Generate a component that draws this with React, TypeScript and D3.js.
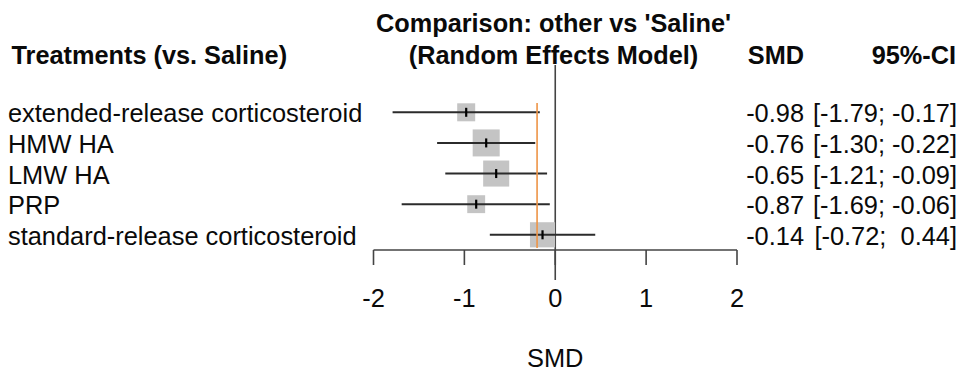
import React from "react";
import * as d3 from "d3";

const treatments = [
  "extended-release corticosteroid",
  "HMW HA",
  "LMW HA",
  "PRP",
  "standard-release corticosteroid",
];
const smd = [-0.98, -0.76, -0.65, -0.87, -0.14];
const ciLower = [-1.79, -1.3, -1.21, -1.69, -0.72];
const ciUpper = [-0.17, -0.22, -0.09, -0.06, 0.44];
const xTicks = [-2, -1, 0, 1, 2];
const referenceValue = -0.2;

const W = 960;
const H = 371;
const FONT = "'Liberation Sans', Arial, Helvetica, sans-serif";

export default function App() {
  const x = d3.scaleLinear().domain([-2, 2]).range([373.5, 737]);
  const y = d3
    .scalePoint<number>()
    .domain(treatments.map((_, i) => i))
    .range([112.3, 234.8]);

  const weights = ciLower.map((lo, i) => {
    const se = (ciUpper[i] - lo) / 3.92;
    return 1 / (se * se);
  });
  const side = d3
    .scaleSqrt()
    .domain([0, d3.max(weights) as number])
    .range([0, 27]);

  const f2 = d3.format(".2f");
  const fmt = (v: number) => (v < 0 ? f2(v).replace("−", "-") : " " + f2(v));

  const axisY = 250;
  const txt = { fontFamily: FONT, fontSize: 25.4, fill: "#0a0a0a" } as const;
  const bold = { ...txt, fontSize: 25.3, fontWeight: 700 } as const;

  return (
    <svg
      width={W}
      height={H}
      style={{ position: "absolute", left: 0, top: 0, background: "#fff" }}
    >
      <rect width={W} height={H} fill="#fff" />
      {/* Headers */}
      <text x={553.5} y={32} textAnchor="middle" style={bold}>
        Comparison: other vs 'Saline'
      </text>
      <text x={553.5} y={63.5} textAnchor="middle" style={bold}>
        (Random Effects Model)
      </text>
      <text x={11.5} y={63.5} style={bold}>
        Treatments (vs. Saline)
      </text>
      <text x={804} y={63.5} textAnchor="end" style={bold}>
        SMD
      </text>
      <text x={956} y={63.5} textAnchor="end" style={bold}>
        95%-CI
      </text>

      {/* zero line */}
      <line x1={x(0)} x2={x(0)} y1={65} y2={280} stroke="#444" strokeWidth={1.6} />

      {/* rows */}
      {treatments.map((t, i) => {
        const cy = y(i) as number;
        const s = side(weights[i]);
        return (
          <g key={t}>
            <text x={8} y={cy + 10} style={txt}>
              {t}
            </text>
            <rect
              x={x(smd[i]) - s / 2}
              y={cy - s / 2}
              width={s}
              height={s}
              fill="#c4c4c4"
            />
            <line
              x1={x(ciLower[i])}
              x2={x(ciUpper[i])}
              y1={cy}
              y2={cy}
              stroke="#2b2b2b"
              strokeWidth={2}
            />
            <line
              x1={x(smd[i])}
              x2={x(smd[i])}
              y1={cy - 4.5}
              y2={cy + 4.5}
              stroke="#000"
              strokeWidth={2.2}
            />
            <text x={804} y={cy + 10} textAnchor="end" style={txt}>
              {fmt(smd[i])}
            </text>
            <text
              x={957}
              y={cy + 10}
              textAnchor="end"
              xmlSpace="preserve"
              style={{ ...txt, whiteSpace: "pre" }}
            >
              {`[${fmt(ciLower[i])}; ${fmt(ciUpper[i])}]`}
            </text>
          </g>
        );
      })}

      {/* reference line */}
      <line
        x1={x(referenceValue)}
        x2={x(referenceValue)}
        y1={103}
        y2={248}
        stroke="#ee9446"
        strokeWidth={1.6}
      />

      {/* x axis */}
      <line x1={x(-2)} x2={x(2)} y1={axisY} y2={axisY} stroke="#444" strokeWidth={1.6} />
      {xTicks.map((t) => (
        <g key={t}>
          <line
            x1={x(t)}
            x2={x(t)}
            y1={axisY}
            y2={axisY + 15}
            stroke="#444"
            strokeWidth={1.6}
          />
          <text x={x(t)} y={306.5} textAnchor="middle" style={txt}>
            {t < 0 ? "-" + Math.abs(t) : String(t)}
          </text>
        </g>
      ))}
      <text x={x(0)} y={367} textAnchor="middle" style={txt}>
        SMD
      </text>
    </svg>
  );
}
